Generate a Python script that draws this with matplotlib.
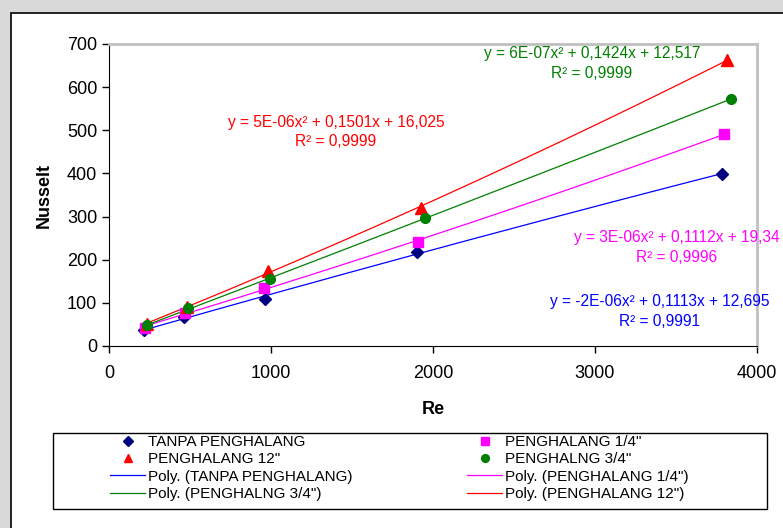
import matplotlib
matplotlib.use('Agg')  # no display
import matplotlib.pyplot as plt
from matplotlib.patches import Rectangle
import numpy as np

plt.rcParams['font.family'] = ['Liberation Sans', 'DejaVu Sans']

# values
re_tanpa = [218, 465, 963, 1903, 3782]
nu_tanpa = [37, 68, 109, 217, 399]
re_q14 = [222, 469, 957, 1909, 3796]
nu_q14 = [42, 77, 135, 242, 491]
re_q12 = [232, 483, 979, 1926, 3817]
nu_q12 = [51, 90, 174, 321, 663]
re_q34 = [232, 490, 994, 1951, 3837]
nu_q34 = [48, 87, 155, 297, 572]

names = ['TANPA PENGHALANG', 'PENGHALANG 1/4"', 'PENGHALANG 12"', 'PENGHALNG 3/4"']
eq_texts = ['y = -2E-06x² + 0,1113x + 12,695\nR² = 0,9991',
            'y = 3E-06x² + 0,1112x + 19,34\nR² = 0,9996',
            'y = 5E-06x² + 0,1501x + 16,025\nR² = 0,9999',
            'y = 6E-07x² + 0,1424x + 12,517\nR² = 0,9999']
xticks = [0, 1000, 2000, 3000, 4000]
yticks = [0, 100, 200, 300, 400, 500, 600, 700]

series = [
    (re_tanpa, nu_tanpa, 'D', '#000080', '#0000ff', 6),
    (re_q14, nu_q14, 's', '#ff00ff', '#ff00ff', 6.5),
    (re_q12, nu_q12, '^', '#ff0000', '#ff0000', 8),
    (re_q34, nu_q34, 'o', '#008000', '#008000', 7),
]
eq_pos = [(3401, 80), (3506, 228), (1401, 496), (2981, 654)]

fig = plt.figure(figsize=(7.83, 5.28), dpi=100, facecolor='#d9d9d9')
# white chart area with black border
fig.patches.append(Rectangle((11 / 783, -0.2), 1.2, 1.2 - 13 / 528, transform=fig.transFigure,
                             facecolor='white', edgecolor='black', linewidth=1.2, zorder=-5))
# legend box drawn separately
fig.patches.append(Rectangle((53 / 783, 1 - 509 / 528), 714 / 783, 76 / 528, transform=fig.transFigure,
                             facecolor='white', edgecolor='black', linewidth=1, zorder=-4))

ax = fig.add_axes([109 / 783, 1 - 346 / 528, 648 / 783, 302 / 528])
ax.set_zorder(1)
ax.set_facecolor('white')

marker_handles = []
line_handles = []
for (xs, ys, mk, mcol, lcol, ms), name, eq, pos in zip(series, names, eq_texts, eq_pos):
    xs = np.array(xs)
    ys = np.array(ys)
    coef = np.polyfit(xs, ys, 2)
    xx = np.linspace(xs.min(), xs.max(), 200)
    ln, = ax.plot(xx, np.polyval(coef, xx), color=lcol, linewidth=0.9, zorder=2)
    mh, = ax.plot(xs, ys, linestyle='none', marker=mk, color=mcol, markersize=ms, zorder=3)
    marker_handles.append(mh)
    line_handles.append(ln)
    ax.text(pos[0], pos[1], eq, color=lcol, fontsize=11.2, ha='center', va='center',
            linespacing=1.4, clip_on=False)

ax.set_xlim(0, 4000)
ax.set_ylim(0, 700)
ax.set_xticks(xticks)
ax.set_yticks(yticks)
ax.tick_params(direction='out', length=5, width=1, labelsize=13, colors='black')
ax.tick_params(axis='x', pad=8.5)
ax.spines['top'].set_color('#c0c0c0')
ax.spines['right'].set_color('#c0c0c0')
ax.spines['top'].set_linewidth(2)
ax.spines['right'].set_linewidth(2)
ax.set_xlabel('Re', fontsize=13, fontweight='bold', labelpad=13.5)
ax.set_ylabel('Nusselt', fontsize=13, fontweight='bold', labelpad=10)

# legend entries ordered as in the reference (filled column-wise)
poly_labels = ['Poly. (' + n + ')' for n in names]
handles = [marker_handles[0], marker_handles[2], line_handles[0], line_handles[3],
           marker_handles[1], marker_handles[3], line_handles[1], line_handles[2]]
labels = [names[0], names[2], poly_labels[0], poly_labels[3],
          names[1], names[3], poly_labels[1], poly_labels[2]]
leg = fig.legend(handles, labels, loc='upper left', bbox_to_anchor=(110 / 783, 1 - 435 / 528),
                 ncol=2, frameon=False, fontsize=11, handlelength=2.3, handletextpad=0.2,
                 columnspacing=7.5, labelspacing=0.22, borderpad=0, borderaxespad=0,
                 markerscale=0.8)
leg.set_zorder(2)

plt.savefig('out.png', dpi=100, facecolor=fig.get_facecolor())
plt.close()
